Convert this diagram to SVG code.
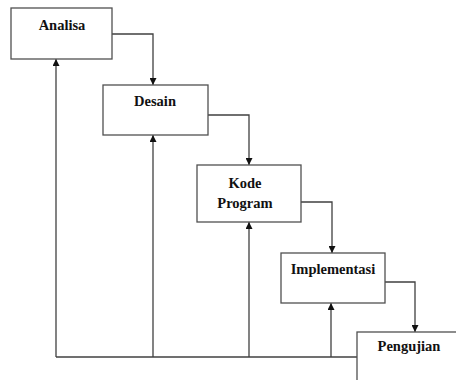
<svg xmlns="http://www.w3.org/2000/svg" width="456" height="380" viewBox="0 0 456 380">
<defs>
<style>
.box{fill:#fff;stroke:#505050;stroke-width:1.3}
.lbl{font-family:'Liberation Serif','Times New Roman',serif;font-weight:bold;font-size:14.5px;fill:#111;text-anchor:middle}
.con{fill:none;stroke:#404040;stroke-width:1.3}
</style>
<marker id="ah" viewBox="0 0 8 8" refX="8" refY="4" markerWidth="7" markerHeight="7" markerUnits="userSpaceOnUse" orient="auto">
<path d="M0,0 L8,4 L0,8 Z" fill="#111"/>
</marker>
</defs>
<rect width="456" height="380" fill="#fff"/>
<g id="connectors">
<path class="con" d="M112,34 H153 V85" marker-end="url(#ah)"/>
<path class="con" d="M208,115 H249 V165" marker-end="url(#ah)"/>
<path class="con" d="M301,202 H332 V253" marker-end="url(#ah)"/>
<path class="con" d="M385,282 H415 V332" marker-end="url(#ah)"/>
<path class="con" d="M56,357 H357"/>
<path class="con" d="M56,357 V59" marker-end="url(#ah)"/>
<path class="con" d="M153,357 V135" marker-end="url(#ah)"/>
<path class="con" d="M249,357 V222" marker-end="url(#ah)"/>
<path class="con" d="M331,357 V303" marker-end="url(#ah)"/>
</g>
<g id="analisa">
<rect class="box" x="11" y="8" width="101" height="51"/>
<text class="lbl" x="62" y="30">Analisa</text>
</g>
<g id="desain">
<rect class="box" x="103" y="85" width="105" height="50"/>
<text class="lbl" x="155" y="106">Desain</text>
</g>
<g id="kode-program">
<rect class="box" x="197" y="165" width="104" height="57"/>
<text class="lbl" x="245" y="188">Kode</text>
<text class="lbl" x="245" y="208">Program</text>
</g>
<g id="implementasi">
<rect class="box" x="281" y="253" width="104" height="50"/>
<text class="lbl" x="333" y="274">Implementasi</text>
</g>
<g id="pengujian">
<rect class="box" x="357" y="332" width="120" height="60"/>
<text class="lbl" x="409" y="351">Pengujian</text>
</g>
</svg>
